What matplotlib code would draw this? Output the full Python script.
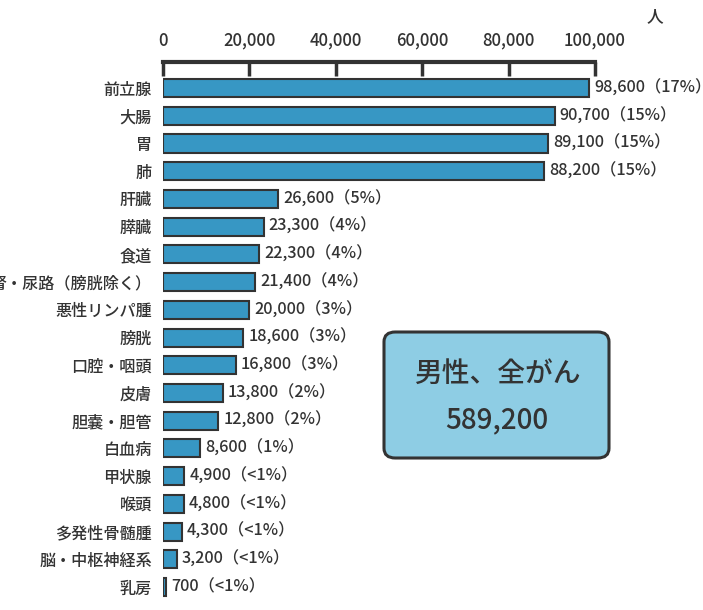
import matplotlib.pyplot as plt
import matplotlib.transforms as mtransforms
from matplotlib.patches import FancyBboxPatch

plt.rcParams['font.family'] = ['Noto Sans CJK JP', 'DejaVu Sans']
plt.rcParams['font.weight'] = 'medium'

# data
sites = ['前立腺', '大腸', '胃', '肺', '肝臓', '膵臓', '食道', '腎・尿路（膀胱除く）',
         '悪性リンパ腫', '膀胱', '口腔・咽頭', '皮膚', '胆嚢・胆管', '白血病', '甲状腺',
         '喉頭', '多発性骨髄腫', '脳・中枢神経系', '乳房']
cases = [98600, 90700, 89100, 88200, 26600, 23300, 22300, 21400, 20000, 18600,
         16800, 13800, 12800, 8600, 4900, 4800, 4300, 3200, 700]
shares = ['17%', '15%', '15%', '15%', '5%', '4%', '4%', '4%', '3%', '3%',
          '3%', '2%', '2%', '1%', '<1%', '<1%', '<1%', '<1%', '<1%']
x_ticks = [0, 20000, 40000, 60000, 80000, 100000]
total_title = '男性、全がん'
total_value = '589,200'

text_color = '#333333'
bar_color = '#3797c4'

W, H = 703, 610
fig = plt.figure(figsize=(W / 100, H / 100), dpi=100)
ax = fig.add_axes([163 / W, 0, (595 - 163) / W, 1 - 62 / H])

ypos = list(range(len(sites)))
ax.barh(ypos, cases, height=0.65, color=bar_color, edgecolor=text_color, linewidth=1.5)

ax.set_xlim(0, 100000)
ax.set_ylim(18.83, -0.94)

# axis on top
ax.xaxis.set_ticks_position('top')
ax.set_xticks(x_ticks)
ax.set_xticklabels([f'{t:,}' for t in x_ticks])
ax.tick_params(axis='x', direction='in', length=10, width=2.5, color=text_color,
               labelsize=12, labelcolor=text_color, pad=9)

ax.set_yticks(ypos)
ax.set_yticklabels(sites)
ax.tick_params(axis='y', length=0, labelsize=11.6, labelcolor=text_color, pad=8)

for side in ['right', 'bottom', 'left']:
    ax.spines[side].set_visible(False)
ax.spines['top'].set_linewidth(3)
ax.spines['top'].set_color(text_color)

# value labels
offset = mtransforms.offset_copy(ax.transData, fig=fig, x=5, y=0, units='dots')
for y, v, s in zip(ypos, cases, shares):
    ax.text(v, y, f'{v:,}（{s}）', transform=offset, ha='left', va='center',
            fontsize=11.7, color=text_color, clip_on=False)

# unit
fig.text(655 / W, 1 - 16 / H, '人', ha='center', va='center', fontsize=12, color=text_color)

# total box
box = FancyBboxPatch((384 / W, 1 - 458 / H), (609 - 384) / W, (458 - 332) / H,
                     boxstyle='round,pad=0,rounding_size=0.016',
                     transform=fig.transFigure, facecolor='#8ecde4',
                     edgecolor=text_color, linewidth=2.2)
fig.patches.append(box)
fig.text(497 / W, 1 - 373 / H, total_title, ha='center', va='center',
         fontsize=20, color=text_color)
fig.text(497 / W, 1 - 420 / H, total_value, ha='center', va='center',
         fontsize=20, color=text_color)

fig.savefig('out.png', dpi=100)
